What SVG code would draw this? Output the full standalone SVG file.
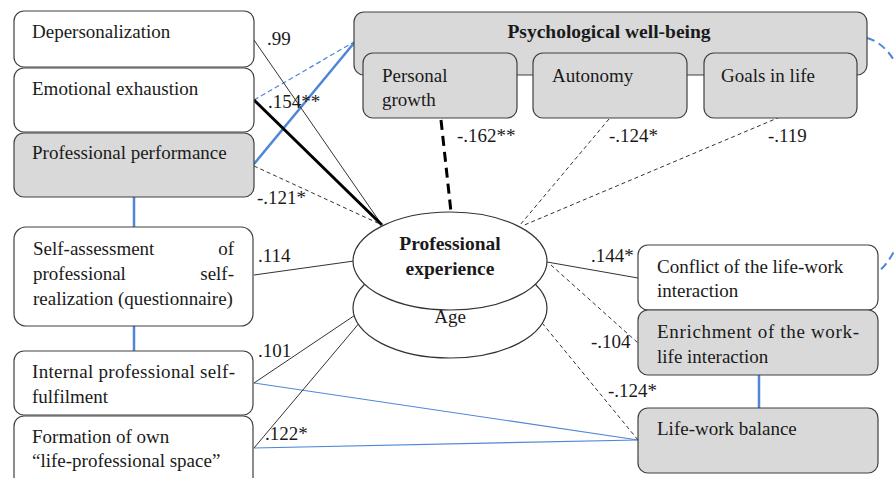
<svg xmlns="http://www.w3.org/2000/svg" width="894" height="478" viewBox="0 0 894 478">
<style>
text{font-family:'Liberation Serif','Times New Roman','DejaVu Serif',serif;font-size:19px;fill:#1a1a1a}
.b{font-weight:bold;font-size:19.5px}
.box{fill:#fff;stroke:#404040;stroke-width:1.2}
.g{fill:#d9d9d9;stroke:#404040;stroke-width:1.2}
.thin{stroke:#333;stroke-width:1;fill:none}
.dash{stroke:#333;stroke-width:1;stroke-dasharray:4 3;fill:none}
.blue{stroke:#4f86d8;fill:none}
</style>
<rect width="894" height="478" fill="#fff"/>
<g id="connectors">
<line class="blue" x1="134" y1="197" x2="134" y2="227" stroke-width="2.5"/>
<line class="blue" x1="134" y1="326" x2="134" y2="351" stroke-width="2.5"/>
<line class="blue" x1="759" y1="375" x2="759" y2="408" stroke-width="2.5"/>
<line class="blue" x1="254" y1="100" x2="354" y2="42" stroke-width="1.2" stroke-dasharray="5 3"/>
<line class="blue" x1="254" y1="164" x2="354" y2="43" stroke-width="2.5"/>
<line class="blue" x1="254" y1="383" x2="638" y2="440" stroke-width="1.2"/>
<line class="blue" x1="254" y1="448" x2="638" y2="440" stroke-width="1.2"/>
<path class="blue" d="M867,38 C930,55 925,235 878,272" stroke-width="2" stroke-dasharray="8 5"/>
<line class="thin" x1="254" y1="40" x2="382" y2="225"/>
<line x1="254" y1="100" x2="382" y2="225" stroke="#000" stroke-width="3"/>
<line class="dash" x1="254" y1="166" x2="382" y2="225"/>
<line class="thin" x1="254" y1="275" x2="354" y2="261"/>
<line class="thin" x1="254" y1="383" x2="382" y2="297"/>
<line class="thin" x1="254" y1="448" x2="382" y2="296"/>
<line x1="441" y1="120" x2="451" y2="212" stroke="#000" stroke-width="3" stroke-dasharray="10 6"/>
<line class="dash" x1="609" y1="119" x2="520" y2="225"/>
<line class="dash" x1="780" y1="117" x2="522" y2="226"/>
<line class="thin" x1="547" y1="262" x2="638" y2="278"/>
<line class="dash" x1="551" y1="265" x2="638" y2="343"/>
<line class="dash" x1="520" y1="296" x2="638" y2="440"/>
</g>
<g id="labels">
<text x="267" y="45">.99</text>
<text x="268" y="108">.154**</text>
<text x="257" y="204">-.121*</text>
<text x="258" y="262">.114</text>
<text x="258" y="357">.101</text>
<text x="265" y="440">.122*</text>
<text x="457" y="142">-.162**</text>
<text x="609" y="142">-.124*</text>
<text x="768" y="142">-.119</text>
<text x="591" y="262">.144*</text>
<text x="591" y="348">-.104</text>
<text x="608" y="397">-.124*</text>
</g>
<g id="depersonalization"><rect class="box" x="14" y="11" width="240" height="56" rx="10"/><text x="32" y="38">Depersonalization</text></g>
<g id="emotional-exhaustion"><rect class="box" x="14" y="68" width="240" height="64" rx="10"/><text x="32" y="95">Emotional exhaustion</text></g>
<g id="professional-performance"><rect class="g" x="14" y="133" width="240" height="64" rx="10"/><text x="32" y="159">Professional performance</text></g>
<g id="self-assessment"><rect class="box" x="14" y="227" width="239" height="99" rx="12"/>
<text x="33" y="255">Self-assessment</text><text x="234" y="255" text-anchor="end">of</text>
<text x="33" y="280">professional</text><text x="234" y="280" text-anchor="end">self-</text>
<text x="33" y="305">realization (questionnaire)</text></g>
<g id="internal"><rect class="box" x="14" y="351" width="239" height="64" rx="10"/>
<text x="32" y="378" textLength="203" lengthAdjust="spacing">Internal professional self-</text><text x="32" y="403">fulfilment</text></g>
<g id="formation"><rect class="box" x="14" y="416" width="239" height="72" rx="10"/>
<text x="32" y="443">Formation of own</text><text x="32" y="467">“life-professional space”</text></g>
<g id="psychological-well-being"><rect class="g" x="354" y="12" width="513" height="63" rx="10"/>
<text class="b" x="609" y="38" text-anchor="middle">Psychological well-being</text></g>
<g id="personal-growth"><rect class="g" x="363" y="53" width="154" height="65" rx="10"/><text x="382" y="82">Personal</text><text x="382" y="106">growth</text></g>
<g id="autonomy"><rect class="g" x="533" y="53" width="154" height="65" rx="10"/><text x="552" y="82">Autonomy</text></g>
<g id="goals-in-life"><rect class="g" x="704" y="53" width="153" height="65" rx="10"/><text x="721" y="82">Goals in life</text></g>
<g id="age"><ellipse cx="450" cy="308" rx="97" ry="50" fill="#fff" stroke="#333" stroke-width="1.2"/><text x="450" y="323" text-anchor="middle">Age</text></g>
<g id="professional-experience"><ellipse cx="450" cy="261" rx="97" ry="49" fill="#fff" stroke="#333" stroke-width="1.2"/>
<text class="b" x="450" y="250" text-anchor="middle">Professional</text><text class="b" x="450" y="275" text-anchor="middle">experience</text></g>
<g id="conflict"><rect class="box" x="638" y="245" width="240" height="65" rx="10"/><text x="657" y="273">Conflict of the life-work</text><text x="657" y="297">interaction</text></g>
<g id="enrichment"><rect class="g" x="638" y="310" width="240" height="65" rx="10"/>
<text x="657" y="338" textLength="202" lengthAdjust="spacing">Enrichment of the work-</text><text x="657" y="363">life interaction</text></g>
<g id="life-work-balance"><rect class="g" x="638" y="408" width="240" height="65" rx="10"/><text x="657" y="435">Life-work balance</text></g>
</svg>
